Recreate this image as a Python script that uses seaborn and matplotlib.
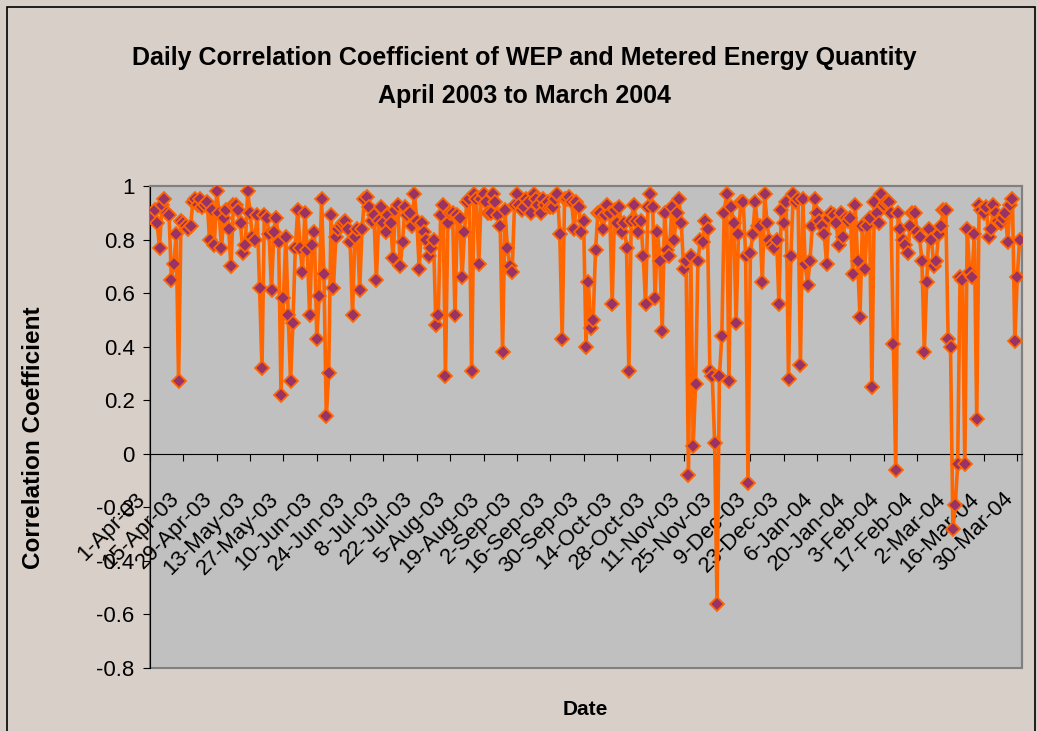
import numpy as np
import pandas as pd
import matplotlib
matplotlib.use("Agg")
import matplotlib.pyplot as plt
import matplotlib.dates as mdates
from matplotlib.patches import Rectangle
import seaborn as sns

# daily correlation coefficients, 1-Apr-2003 .. 31-Mar-2004
apr_may = [0.89, 0.88, 0.91, 0.86, 0.77, 0.93, 0.95, 0.90, 0.89, 0.65, 0.71, 0.82,
           0.27, 0.87, 0.86, 0.85, 0.84, 0.85, 0.94, 0.95, 0.93, 0.95, 0.92, 0.93,
           0.94, 0.80, 0.91, 0.78, 0.98, 0.90, 0.77, 0.88, 0.91, 0.84, 0.70, 0.93,
           0.93, 0.91, 0.86, 0.75, 0.78, 0.98, 0.90, 0.81, 0.80, 0.89, 0.62, 0.32,
           0.89, 0.88, 0.82, 0.61, 0.83, 0.88, 0.79, 0.22, 0.58, 0.81, 0.52, 0.27,
           0.49, 0.77, 0.91, 0.77, 0.68, 0.90, 0.76, 0.52, 0.78, 0.83, 0.43]
jun_aug = [0.59, 0.95, 0.67, 0.14, 0.30, 0.89, 0.62, 0.81, 0.84, 0.85, 0.86, 0.87,
           0.84, 0.79, 0.52, 0.81, 0.84, 0.61, 0.84, 0.95, 0.96, 0.92, 0.87, 0.89,
           0.65, 0.87, 0.92, 0.86, 0.83, 0.89, 0.86, 0.73, 0.91, 0.93, 0.70, 0.79,
           0.92, 0.89, 0.90, 0.85, 0.97, 0.87, 0.69, 0.86, 0.83, 0.80, 0.74, 0.77,
           0.80, 0.48, 0.52, 0.89, 0.93, 0.29, 0.86, 0.90, 0.90, 0.52, 0.89, 0.88,
           0.66, 0.83, 0.94, 0.95, 0.31, 0.97, 0.95, 0.71, 0.95, 0.97, 0.94, 0.90]
sep_nov = [0.90, 0.97, 0.94, 0.89, 0.85, 0.38, 0.91, 0.77, 0.70, 0.68, 0.93, 0.97,
           0.93, 0.91, 0.92, 0.95, 0.94, 0.90, 0.97, 0.95, 0.93, 0.90, 0.95, 0.93,
           0.94, 0.92, 0.92, 0.95, 0.97, 0.82, 0.43, 0.95, 0.95, 0.96, 0.94,
           0.84, 0.94, 0.92, 0.83, 0.87, 0.40, 0.64, 0.47, 0.50, 0.76, 0.90, 0.90,
           0.84, 0.89, 0.93, 0.90, 0.56, 0.91, 0.86, 0.92, 0.83, 0.86, 0.77, 0.31,
           0.87, 0.93, 0.87, 0.83, 0.87, 0.74, 0.56, 0.92, 0.97, 0.92, 0.58, 0.83]
dec_jan = [0.72, 0.46, 0.90, 0.76, 0.74, 0.92, 0.80, 0.90, 0.95, 0.86, 0.69, 0.72,
           -0.08, 0.74, 0.03, 0.26, 0.72, 0.80, 0.79, 0.87, 0.84, 0.31, 0.29, 0.04,
           -0.56, 0.29, 0.44, 0.90, 0.97, 0.27, 0.92, 0.86, 0.49, 0.82, 0.94,
           0.94, 0.74, -0.11, 0.75, 0.82, 0.94, 0.85, 0.85, 0.64, 0.97, 0.86, 0.80,
           0.78, 0.77, 0.80, 0.56, 0.91, 0.86, 0.94, 0.28, 0.74, 0.97, 0.94, 0.95,
           0.33, 0.95, 0.71, 0.63, 0.72, 0.85, 0.95, 0.90, 0.87, 0.85, 0.82, 0.71]
feb_mar = [0.88, 0.90, 0.89, 0.86, 0.78, 0.90, 0.81, 0.88, 0.87, 0.88, 0.67, 0.93,
           0.72, 0.51, 0.85, 0.69, 0.85, 0.88, 0.25, 0.94, 0.90, 0.86, 0.97, 0.93,
           0.94, 0.94, 0.90, 0.41, -0.06, 0.90, 0.84, 0.80, 0.78, 0.75, 0.85, 0.90,
           0.90, 0.83, 0.81, 0.72, 0.38, 0.64, 0.84, 0.80, 0.70, 0.72, 0.82, 0.85,
           0.91, 0.91, 0.43, 0.40, -0.28, -0.19, -0.04, 0.66, 0.65, -0.04, 0.84, 0.68,
           0.66, 0.82, 0.13, 0.93, 0.91, 0.90, 0.92, 0.81, 0.84, 0.93, 0.90, 0.87,
           0.86, 0.88, 0.90, 0.79, 0.93, 0.95, 0.42, 0.66, 0.80]

coef = apr_may + jun_aug + sep_nov + dec_jan + feb_mar
dates = pd.date_range("2003-04-01", "2004-03-31", freq="D")
df = pd.DataFrame({"Date": dates, "Coef": coef[:len(dates)]})

ytick_vals = [-0.8, -0.6, -0.4, -0.2, 0, 0.2, 0.4, 0.6, 0.8, 1]
ytick_labels = ["-0.8", "-0.6", "-0.4", "-0.2", "0", "0.2", "0.4", "0.6", "0.8", "1"]
xtick_dates = pd.date_range("2003-04-01", periods=27, freq="14D")
xtick_labels = [d.strftime("%-d-%b-%y") for d in xtick_dates]

plt.rcParams["font.family"] = ["Liberation Sans", "DejaVu Sans"]

fig = plt.figure(figsize=(10.37, 7.31), dpi=100, facecolor="#d8cfc8")
ax = fig.add_axes([150 / 1037, 1 - 668 / 731, 872 / 1037, 482 / 731])
ax.set_facecolor("#c0c0c0")

sns.lineplot(data=df, x="Date", y="Coef", ax=ax, color="#ff6600", linewidth=2.6,
             marker="D", markersize=6.8, markerfacecolor="#993366",
             markeredgecolor="#ff6600", markeredgewidth=1.3, zorder=3)

# x axis crosses at 0 (set before the tick labels, it resets the ticks)
ax.spines["bottom"].set_position(("data", 0))
ax.spines["bottom"].set_color("black")
ax.spines["left"].set_color("black")
for s in ["top", "right"]:
    ax.spines[s].set_color("#808080")
    ax.spines[s].set_linewidth(1.5)
ax.add_patch(Rectangle((0, 0), 1, 1, transform=ax.transAxes, fill=False,
                       edgecolor="#808080", linewidth=1.5, zorder=0.5, clip_on=False))

ax.set_ylim(-0.8, 1.0)
ax.set_yticks(ytick_vals)
ax.set_yticklabels(ytick_labels, fontsize=16)
ax.set_xlim(mdates.date2num(dates[0]), mdates.date2num(dates[0]) + 366)
ax.set_xticks(mdates.date2num(xtick_dates))
ax.set_xticklabels(xtick_labels, rotation=45, ha="right", va="top", fontsize=16)
ax.set_xlabel("")
ax.set_ylabel("")
ax.tick_params(axis="x", direction="out", length=5, pad=20, colors="black")
ax.tick_params(axis="y", direction="out", length=5, pad=6, colors="black")

fig.text(0.506, 0.8947, "Daily Correlation Coefficient of WEP and Metered Energy Quantity\n"
         "April 2003 to March 2004", ha="center", va="center", fontsize=18,
         fontweight="bold", linespacing=1.7)
fig.text(0.032, 0.401, "Correlation Coefficient", rotation=90, ha="center", va="center",
         fontsize=17.5, fontweight="bold")
fig.text(0.564, 0.029, "Date", ha="center", va="center", fontsize=15, fontweight="bold")

fig.patches.append(Rectangle((7 / 1037, -0.01), 1028 / 1037, 1 - 7 / 731 + 0.01,
                             transform=fig.transFigure, fill=False,
                             edgecolor="black", linewidth=1.2))

fig.savefig("out.png", dpi=100, facecolor=fig.get_facecolor())
